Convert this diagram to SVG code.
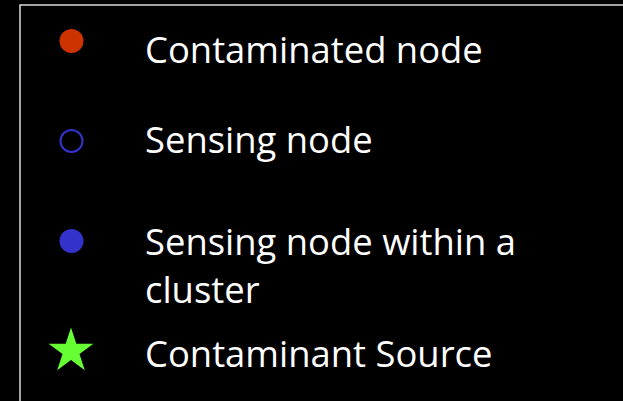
<svg xmlns="http://www.w3.org/2000/svg" width="623" height="401" viewBox="0 0 623 401">
<style>
.lbl{font-family:"Open Sans","Liberation Sans",sans-serif;font-size:36.4px;fill:#ffffff}
</style>
<rect x="0" y="0" width="623" height="401" fill="#000000"/>
<rect id="frame" x="20" y="5" width="620" height="420" fill="none" stroke="#d9d9d9" stroke-width="1.5"/>
<g id="contaminated">
<circle cx="71.5" cy="41" r="12" fill="#cc3300"/>
<text class="lbl" x="145" y="62.5">Contaminated node</text>
</g>
<g id="sensing">
<circle cx="71.5" cy="141" r="11" fill="none" stroke="#3333cc" stroke-width="2"/>
<text class="lbl" x="145" y="153">Sensing node</text>
</g>
<g id="cluster">
<circle cx="71.5" cy="241" r="12" fill="#3333cc"/>
<text class="lbl" x="145" y="255">Sensing node within a</text>
<text class="lbl" x="145" y="303">cluster</text>
</g>
<g id="source">
<polygon fill="#66ff33" points="71,327.5 76.3,343.8 93.4,343.8 79.5,353.9 84.8,370.2 71,360.1 57.2,370.2 62.5,353.9 48.6,343.8 65.7,343.8"/>
<text class="lbl" x="145" y="366.5">Contaminant Source</text>
</g>
<g id="connectors"/>
</svg>
